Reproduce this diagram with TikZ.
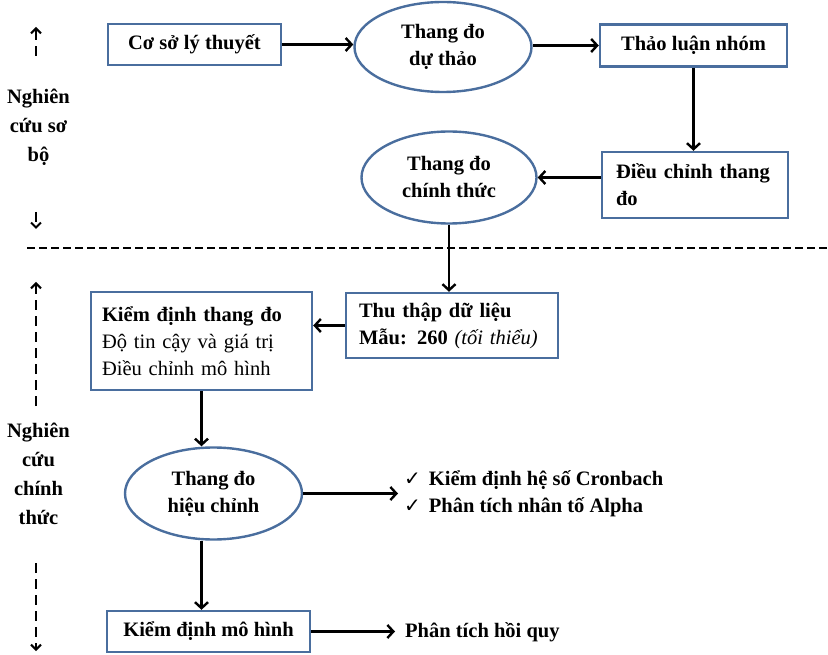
\documentclass[tikz,border=0pt]{standalone}
\usepackage{fontspec}
\setmainfont{Liberation Serif}
\newfontfamily\symfont{DejaVu Sans}
\usetikzlibrary{shapes.geometric,arrows.meta}
\definecolor{bordercol}{HTML}{4A6E9E}
\begin{document}
\begin{tikzpicture}[x=1pt,y=-1pt,
  every node/.style={font=\fontsize{20.5}{27}\selectfont\bfseries, inner sep=0pt},
  boxnode/.style={draw=bordercol, line width=2.4pt, rectangle},
  ellnode/.style={draw=bordercol, line width=2.4pt, ellipse, align=center},
  conn/.style={draw=black, line width=2.4pt, -{Straight Barb[length=6pt,width=13pt,line width=2.4pt]}},
  sidearrow/.style={draw=black, line width=2pt, dash pattern=on 10pt off 6pt, -{Straight Barb[length=5pt,width=10pt,line width=2pt]}},
  sidelabel/.style={align=center, font=\fontsize{20.5}{29}\selectfont\bfseries}]
\useasboundingbox (0,0) rectangle (828,655);

% upper part
\node[boxnode, minimum width=173pt, minimum height=41pt] (theory) at (194.5,44.5) {Cơ sở lý thuyết};
\node[ellnode, minimum width=177pt, minimum height=90pt] (draft) at (443,47) {Thang đo\\dự thảo};
\node[boxnode, minimum width=187pt, minimum height=42pt] (discuss) at (693.5,45.5) {Thảo luận nhóm};
\node[boxnode, minimum width=186pt, minimum height=66pt, text width=158pt, align=left] (adjust) at (695,185) {Điều chỉnh thang\\đo};
\node[ellnode, minimum width=175pt, minimum height=92pt] (official) at (449,177.5) {Thang đo\\chính thức};

\draw[conn] (theory.east) -- (theory.east -| draft.west);
\draw[conn] (draft.east |- discuss.west) -- (discuss.west);
\draw[conn] (discuss.south) -- (discuss.south |- adjust.north);
\draw[conn] (adjust.west |- official.east) -- (official.east);

% separator
\coordinate (sepL) at (27,248);
\coordinate (sepR) at (828,248);
\draw[line width=1.6pt, dash pattern=on 8pt off 4pt] (sepL) -- (sepR);

% lower part
\node[boxnode, minimum width=212pt, minimum height=65pt, text width=186pt, align=left] (collect) at (452,325.5) {Thu thập dữ liệu\\Mẫu: 260 {\mdseries\itshape (tối thiểu)}};
\node[boxnode, minimum width=221pt, minimum height=98pt, text width=199pt, align=left] (test) at (201.5,341) {Kiểm định thang đo\\{\mdseries Độ tin cậy và giá trị}\\{\mdseries Điều chỉnh mô hình}};
\node[ellnode, minimum width=177pt, minimum height=92pt] (revised) at (213.5,493.5) {Thang đo\\hiệu chỉnh};
\node[align=left, anchor=west] (checks) at (404,494) {{\symfont\mdseries\fontsize{20}{27}\selectfont ✓}\hspace{8pt}Kiểm định hệ số Cronbach\\{\symfont\mdseries\fontsize{20}{27}\selectfont ✓}\hspace{8pt}Phân tích nhân tố Alpha};
\node[boxnode, minimum width=203pt, minimum height=41pt] (model) at (208.5,631.5) {Kiểm định mô hình};
\node[anchor=west] (regress) at (405,632) {Phân tích hồi quy};

\draw[conn] (official.south) -- (official.south |- collect.north);
\draw[conn] (collect.west) -- (test.east |- collect.west);
\draw[conn] (test.south) -- (test.south |- revised.north);
\draw[conn, shorten >=6pt] (revised.east) -- (revised.east -| checks.west);
\draw[conn] (test.south |- revised.south) -- (test.south |- model.north);
\draw[conn, shorten >=10pt] (model.east) -- (model.east -| regress.west);

% side labels
\node[sidelabel] (prelim) at (38.5,127) {Nghiên\\cứu sơ\\bộ};
\node[sidelabel] (formal) at (38.5,474) {Nghiên\\cứu\\chính\\thức};

\coordinate (pu1) at (36,56);
\coordinate (pu2) at (36,27);
\coordinate (pd1) at (36,212);
\coordinate (pd2) at (36,229);
\coordinate (fu1) at (36,406);
\coordinate (fu2) at (36,282);
\coordinate (fd1) at (36,563);
\coordinate (fd2) at (36,651);
\draw[sidearrow] (pu1) -- (pu2);
\draw[sidearrow] (pd1) -- (pd2);
\draw[sidearrow] (fu1) -- (fu2);
\draw[sidearrow] (fd1) -- (fd2);
\end{tikzpicture}
\end{document}
